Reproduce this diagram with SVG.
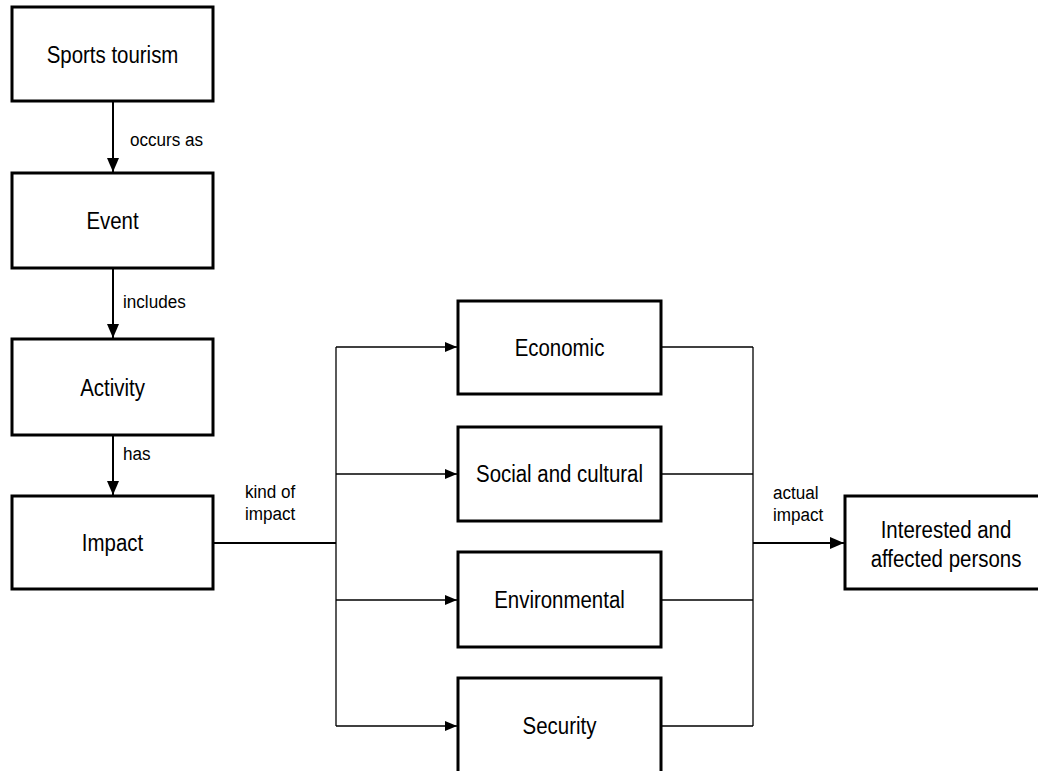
<svg xmlns="http://www.w3.org/2000/svg" width="1038" height="771" viewBox="0 0 1038 771">
<style>
  .box { fill: #fff; stroke: #000; stroke-width: 3; }
  .t { font-family: "Liberation Sans", Arial, sans-serif; font-size: 23.5px; fill: #000; text-anchor: middle; }
  .lbl { font-family: "Liberation Sans", Arial, sans-serif; font-size: 19px; fill: #000; }
  .thick { fill: none; stroke: #000; stroke-width: 2; }
  .thin { fill: none; stroke: #000; stroke-width: 1.3; }
</style>
<defs>
  <marker id="ah" markerUnits="userSpaceOnUse" markerWidth="14" markerHeight="14" viewBox="0 0 14 14" refX="14" refY="7" orient="auto">
    <path d="M0,1 L14,7 L0,13 Z" fill="#000"/>
  </marker>
  <marker id="ahs" markerUnits="userSpaceOnUse" markerWidth="12" markerHeight="12" viewBox="0 0 12 12" refX="12" refY="6" orient="auto">
    <path d="M0,1 L12,6 L0,11 Z" fill="#000"/>
  </marker>
</defs>
<g id="connectors">
  <line class="thick" x1="113" y1="101" x2="113" y2="172" marker-end="url(#ah)"/>
  <line class="thick" x1="113" y1="268" x2="113" y2="338" marker-end="url(#ah)"/>
  <line class="thick" x1="113" y1="435" x2="113" y2="495" marker-end="url(#ah)"/>
  <line class="thick" x1="213" y1="543" x2="336" y2="543"/>
  <line class="thin" x1="336" y1="347" x2="336" y2="726"/>
  <line class="thin" x1="336" y1="347" x2="457" y2="347" marker-end="url(#ahs)"/>
  <line class="thin" x1="336" y1="474" x2="457" y2="474" marker-end="url(#ahs)"/>
  <line class="thin" x1="336" y1="600" x2="457" y2="600" marker-end="url(#ahs)"/>
  <line class="thin" x1="336" y1="726" x2="457" y2="726" marker-end="url(#ahs)"/>
  <line class="thin" x1="661" y1="347" x2="753" y2="347"/>
  <line class="thin" x1="661" y1="474" x2="753" y2="474"/>
  <line class="thin" x1="661" y1="600" x2="753" y2="600"/>
  <line class="thin" x1="661" y1="726" x2="753" y2="726"/>
  <line class="thin" x1="753" y1="347" x2="753" y2="726"/>
  <line class="thick" x1="753" y1="543" x2="844" y2="543" marker-end="url(#ah)"/>
  <text class="lbl" transform="translate(130,146) scale(0.9,1)">occurs as</text>
  <text class="lbl" transform="translate(123,308) scale(0.9,1)">includes</text>
  <text class="lbl" transform="translate(123,460) scale(0.9,1)">has</text>
  <text class="lbl" transform="translate(245,498) scale(0.9,1)">kind of</text>
  <text class="lbl" transform="translate(245,520) scale(0.9,1)">impact</text>
  <text class="lbl" transform="translate(773,499) scale(0.9,1)">actual</text>
  <text class="lbl" transform="translate(773,521) scale(0.9,1)">impact</text>
</g>
<g id="sports-tourism"><rect class="box" x="12" y="7" width="201" height="94"/><text class="t" transform="translate(112.5,63) scale(0.87,1)">Sports tourism</text></g>
<g id="event"><rect class="box" x="12" y="173" width="201" height="95"/><text class="t" transform="translate(112.5,229) scale(0.87,1)">Event</text></g>
<g id="activity"><rect class="box" x="12" y="339" width="201" height="96"/><text class="t" transform="translate(112.5,396) scale(0.87,1)">Activity</text></g>
<g id="impact"><rect class="box" x="12" y="496" width="201" height="93"/><text class="t" transform="translate(112.5,551) scale(0.87,1)">Impact</text></g>
<g id="economic"><rect class="box" x="458" y="301" width="203" height="93"/><text class="t" transform="translate(559.5,356) scale(0.87,1)">Economic</text></g>
<g id="social"><rect class="box" x="458" y="427" width="203" height="94"/><text class="t" transform="translate(559.5,482) scale(0.87,1)">Social and cultural</text></g>
<g id="environmental"><rect class="box" x="458" y="552" width="203" height="95"/><text class="t" transform="translate(559.5,608) scale(0.87,1)">Environmental</text></g>
<g id="security"><rect class="box" x="458" y="678" width="203" height="96"/><text class="t" transform="translate(559.5,734) scale(0.87,1)">Security</text></g>
<g id="interested"><rect class="box" x="845" y="496" width="201" height="93"/><text class="t" transform="translate(946,538) scale(0.87,1)">Interested and</text><text class="t" transform="translate(946,567) scale(0.87,1)">affected persons</text></g>
</svg>
